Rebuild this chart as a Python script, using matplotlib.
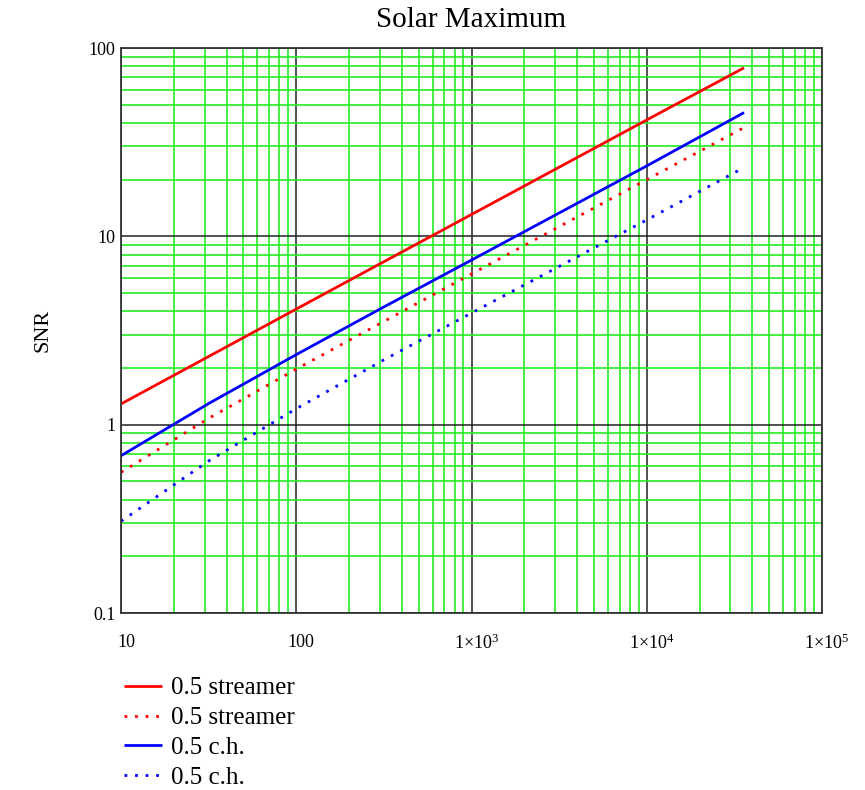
import matplotlib
matplotlib.use("Agg")
import matplotlib.pyplot as plt
from matplotlib.ticker import LogLocator, NullFormatter, FixedLocator
from matplotlib.transforms import ScaledTranslation

# Data (log-log)
x_vals = [10, 31.6, 100, 316, 1000, 3162, 10000, 35900]
red_solid = [1.288, 2.30, 4.11, 7.33, 13.06, 23.28, 41.5, 78.5]
red_dotted = [0.558, 1.079, 1.972, 3.532, 6.31, 11.25, 20.0, 37.8]
blue_solid = [0.684, 1.294, 2.355, 4.217, 7.48, 13.30, 23.66, 45.4]
blue_dotted = [0.307, 0.641, 1.216, 2.208, 3.917, 6.92, 12.22, 23.2]
labels = ["0.5 streamer", "0.5 streamer", "0.5 c.h.", "0.5 c.h."]

x_ticks = [10, 100, 1000, 10000, 100000]
x_ticklabels = ["10", "100", r"$\mathregular{1{\times}10^{3}}$",
                r"$\mathregular{1{\times}10^{4}}$", r"$\mathregular{1{\times}10^{5}}$"]
y_ticks = [0.1, 1, 10, 100]
y_ticklabels = ["0.1", "1", "10", "100"]

plt.rcParams['font.family'] = ['Liberation Serif', 'DejaVu Serif']
plt.rcParams['mathtext.fontset'] = 'custom'
plt.rcParams['mathtext.rm'] = 'Liberation Serif'
plt.rcParams['mathtext.it'] = 'Liberation Serif:italic'

fig = plt.figure(figsize=(8.65, 7.9), dpi=100)
ax = fig.add_axes([121/865, 1-613/790, (822-121)/865, (613-48)/790])
ax.set_xscale('log')
ax.set_yscale('log')
ax.set_xlim(10, 1e5)
ax.set_ylim(0.1, 100)

green = '#22ee22'
ax.xaxis.set_minor_locator(LogLocator(base=10, subs=range(2, 10)))
ax.yaxis.set_minor_locator(LogLocator(base=10, subs=range(2, 10)))
ax.xaxis.set_minor_formatter(NullFormatter())
ax.yaxis.set_minor_formatter(NullFormatter())
ax.grid(which='minor', color=green, linewidth=1.2, zorder=0)
ax.grid(which='major', color='#222222', linewidth=1.1, zorder=0.5)
ax.set_axisbelow(True)

ax.xaxis.set_major_locator(FixedLocator(x_ticks))
ax.yaxis.set_major_locator(FixedLocator(y_ticks))
ax.set_xticklabels(x_ticklabels, fontsize=13)
ax.set_yticklabels(y_ticklabels, fontsize=13)
ax.tick_params(which='both', length=0, pad=4)
ax.tick_params(axis='x', pad=15)
shift = ScaledTranslation(5/100, 0, fig.dpi_scale_trans)
for lab in ax.get_xticklabels():
    lab.set_transform(lab.get_transform() + shift)
for s in ax.spines.values():
    s.set_color('#333333')
    s.set_linewidth(1.3)

l1, = ax.plot(x_vals, red_solid, color='#ff0000', lw=2.0, solid_capstyle='butt')
l2, = ax.plot(x_vals, red_dotted, color='#ff0000', lw=2.0, linestyle=(0, (1, 2.8)))
l3, = ax.plot(x_vals, blue_solid, color='#0000ff', lw=2.0, solid_capstyle='butt')
l4, = ax.plot(x_vals, blue_dotted, color='#0000ff', lw=2.0, linestyle=(0, (1, 2.8)))

ax.set_title("Solar Maximum", fontsize=21, pad=15)
ax.set_ylabel("SNR", fontsize=16, labelpad=26)

fig.legend([l1, l2, l3, l4], labels, loc='upper left',
           bbox_to_anchor=(124/865, 1-677/790), frameon=False,
           fontsize=18, handlelength=1.52, handletextpad=0.36,
           labelspacing=0.29, borderaxespad=0, borderpad=0)

fig.savefig("out.png", dpi=100)
